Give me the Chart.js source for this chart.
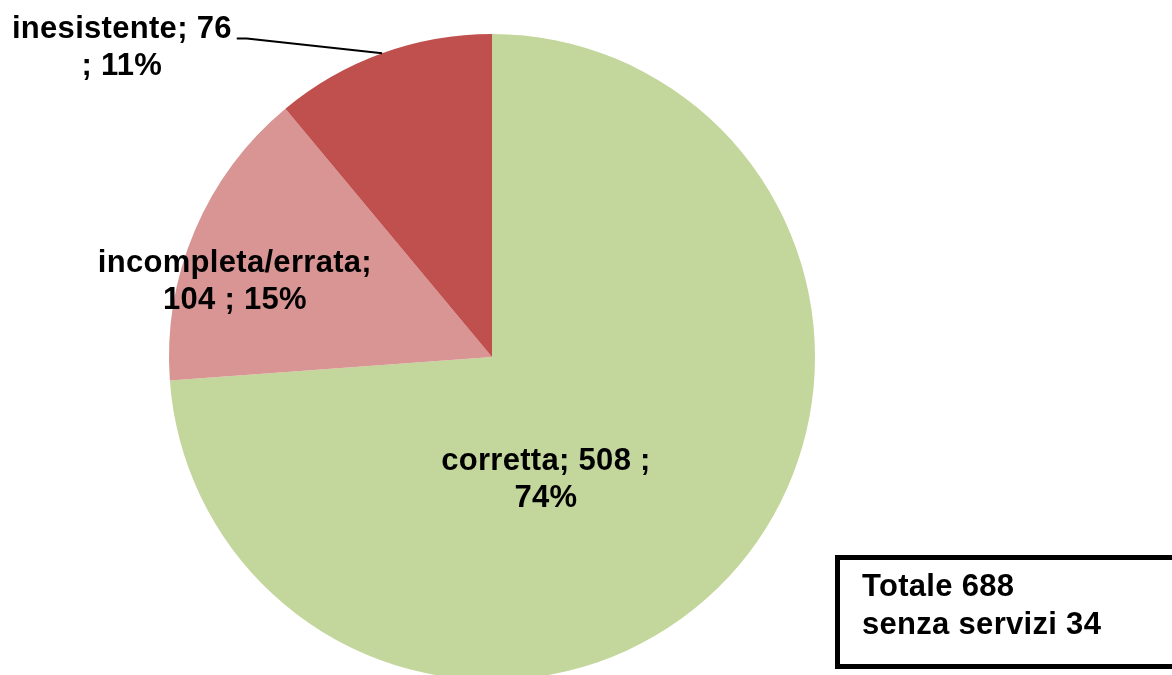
<!DOCTYPE html>
<html>
<head>
<meta charset="utf-8">
<script src="https://cdn.jsdelivr.net/npm/chart.js@4.4.1/dist/chart.umd.min.js"></script>
<style>
  html, body { margin: 0; padding: 0; background: #fff; overflow: hidden; width: 1172px; height: 675px; }
  #wrap { position: absolute; left: 0; top: 0; width: 1172px; height: 690px; }
  .totale {
    position: absolute; left: 835px; top: 555px; width: 360px; height: 104px;
    border: 5px solid #000; box-sizing: content-box;
    font: bold 31px "Liberation Sans", Arial, sans-serif; line-height: 38px;
    letter-spacing: 0.3px; color: #000;
  }
  .totale div { position: relative; left: 22px; top: 7px; }
</style>
</head>
<body>
<div id="wrap"><canvas id="chart" width="1172" height="690"></canvas></div>
<div class="totale"><div>Totale 688<br>senza servizi 34</div></div>
<script>
const categories = ["corretta", "incompleta/errata", "inesistente"];
const values = [508, 104, 76];
const colors = ["#C3D69B", "#D99594", "#C0504D"];

const total = values.reduce((s, v) => s + v, 0);
const pct = values.map((v) => Math.round((v / total) * 100) + "%");

const labelLines = [
  [`${categories[0]}; ${values[0]} ;`, pct[0]],
  [`${categories[1]};`, `${values[1]} ; ${pct[1]}`],
  [`${categories[2]}; ${values[2]}`, `; ${pct[2]}`],
];
// label centre as fraction of radius from the pie centre
const labelOffsets = [[0.167, 0.38], [-0.796, -0.232], [-1.146, -0.957]];

const labelPlugin = {
  id: "pieLabels",
  afterDatasetsDraw(chart) {
    const ctx = chart.ctx;
    const arcs = chart.getDatasetMeta(0).data;
    ctx.save();
    ctx.font = 'bold 31px "Liberation Sans", Arial, sans-serif';
    ctx.letterSpacing = "0.3px";
    ctx.fillStyle = "#000";
    ctx.textAlign = "center";
    ctx.textBaseline = "middle";
    arcs.forEach((arc, i) => {
      const r = arc.outerRadius;
      const cx = arc.x + labelOffsets[i][0] * r;
      const cy = arc.y + labelOffsets[i][1] * r;
      const lh = 37;
      labelLines[i].forEach((line, j) => {
        ctx.fillText(line, cx, cy + (j - 0.5) * lh);
      });
      if (i === 2) {
        // leader line from end of first line to middle of arc edge
        const w = ctx.measureText(labelLines[i][0]).width;
        const x0 = cx + w / 2 + 5;
        const y0 = cy - 0.5 * lh + 9;
        const mid = (arc.startAngle + arc.endAngle) / 2;
        const ex = arc.x + Math.cos(mid) * r;
        const ey = arc.y + Math.sin(mid) * r;
        ctx.strokeStyle = "#000";
        ctx.lineWidth = 2;
        ctx.beginPath();
        ctx.moveTo(x0, y0);
        ctx.lineTo(x0 + 10, y0);
        ctx.lineTo(ex, ey);
        ctx.stroke();
      }
    });
    ctx.restore();
  },
};

new Chart(document.getElementById("chart"), {
  type: "pie",
  data: {
    labels: categories,
    datasets: [{ data: values, backgroundColor: colors, borderWidth: 0 }],
  },
  options: {
    responsive: false,
    animation: false,
    layout: { padding: { left: 169, right: 357, top: 34, bottom: 10 } },
    plugins: { legend: { display: false }, tooltip: { enabled: false } },
  },
  plugins: [labelPlugin],
});
</script>
</body>
</html>
